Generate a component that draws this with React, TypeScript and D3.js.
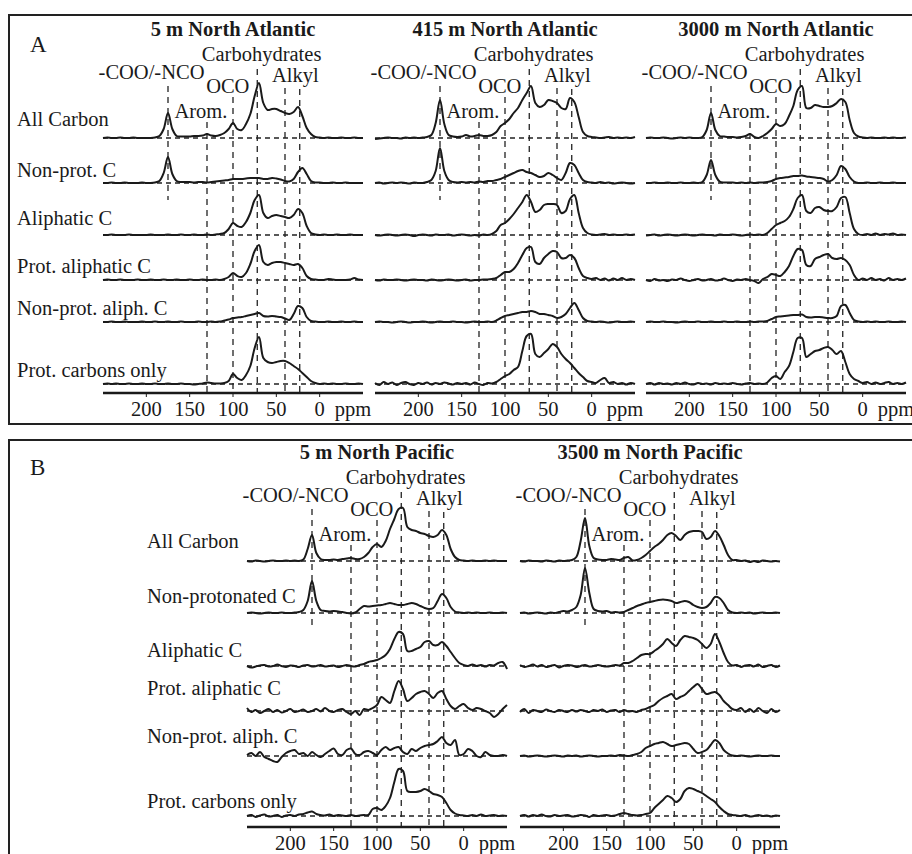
import React from 'react';
import * as d3 from 'd3';

// chemical shift grid (ppm), shared by all spectra
const PPM = [
  250, 245, 240, 235, 230, 225, 220, 215, 210, 205,
  200, 195, 190, 185, 180, 175, 170, 165, 160, 155,
  150, 145, 140, 135, 130, 125, 120, 115, 110, 105,
  100, 95, 90, 85, 80, 75, 70, 65, 60, 55,
  50, 45, 40, 35, 30, 25, 20, 15, 10, 5,
  0, -5, -10, -15, -20, -25, -30, -35, -40, -45, -50,
];

// ---------- Panel A: North Atlantic ----------
const NA5_ALL = [0,0.5,0,0,0.5,0,0,0.5,0,0, 0,0,0.5,2,9,25,9,2,1.5,1.5, 1.5,2,2,2.5,4,2.5,2,3,5,9, 15,9,8,14,24,42,55,35,28,29, 29,27,25,24,26,31,22,10,4,1, 0.5,0,0.5,0,0,0.5,0,0,0.5,0,0];
const NA5_NONPROT = [0,0,0.5,0,0,0.5,0,0,0,0.5, 0,0,0.5,2,10,26,9,2,1,1, 1,0.5,1,1,0.5,1,1.5,2,2.5,3, 4,4,4,4.5,5,5,5,4,4,5, 4.5,3.5,2,1.5,4,11,15,9,2,0.5, 0.5,0,0,0.5,0,0,0.5,0,0,0,0];
const NA5_ALIPH = [0,0,0.5,0,0,0,0.5,0,0,0, 0,0.5,0,0,0,0.5,0,0,0.5,0, 0,0.5,0,0,0.5,0,0.5,1,2,6, 12,9,8,13,22,35,40,22,17,19, 20,19,18,17,20,26,22,9,2,0.5, 0,0.5,0,0,0.5,0,0,0.5,0,0,0];
const NA5_PROTALIPH = [0,0.5,0,0,0.5,0,0,0,0.5,0, 0,0.5,0,0,0.5,0,0,0.5,0,0, 0.5,0,0,0.5,0,0,0.5,0,1,3, 7,4,3,7,16,29,35,18,15,17, 18,18,17,16,15,16,12,4,1,0.5, 0,0,1,0.5,0,0,0,0.5,2,0.5,0];
const NA5_NONPROTALIPH = [0,0,0.5,0,0,0.5,0,0,0,0.5, 0,0,0.5,0,0,0.5,0,0,0.5,0, 0,0,0.5,0,0,0.5,0,0.5,1.5,2.5, 4,4.5,5,6,7,8,9,6,5.5,6, 5.5,5,3.5,2,8,16,14,5,1,0.5, 0,0,0.5,0,0,0.5,0,0,0.5,0,0];
const NA5_PROT = [0,0.5,0,0.5,0,0,0.5,0,0,0.5, 0,0,0.5,0,0,0.5,0,0,0.5,0, 0,-0.5,0,0.5,1.5,1,0.5,0.5,1,3, 10,6,4,9,18,36,47,26,22,21, 22,23,23,21,18,15,11,7,3,1, 0,0.5,0,0.5,0,0,0.5,0,0,0.5,0];

const NA415_ALL = [-1,-0.5,0,0.5,0,0,-0.5,0.5,0,0.5, 0,0.5,1,3,15,38,14,3,1.5,1, 1.5,3,1.5,2,3,2,2,3,6,12, 15,19,25,30,38,45,52,35,31,33, 38,37,35,30,29,40,36,21,6,2, 1,0.5,0,0.5,1,0,0.5,0,0.5,0,1];
const NA415_NONPROT = [0,0.5,-0.5,0,0.5,0,0.5,0,-0.5,0.5, 0,0,1,3,12,35,12,3,1,0.5, 1,0.5,1,0.5,1.5,1,2,2,3,4, 6,8,10,12,13,11,10,8,6,7, 10,8,5,3,10,20,18,10,3,1, 0.5,0,1,0,0.5,-0.5,0,0.5,0,-0.5,0];
const NA415_ALIPH = [0,-0.5,0,0.5,0,-0.5,0,0.5,0,-1, 0,0.5,0,-0.5,0.5,0,0,0.5,-0.5,0, 0.5,0,-0.5,0,-0.5,0.5,0,1,4,10, 12,16,21,27,33,40,33,23,25,30, 31,31,30,22,24,36,40,22,7,2, 0.5,0,0.5,1,0,0.5,0,0,0.5,0,0.5];
const NA415_PROTALIPH = [0,-0.5,0.5,0,0,0.5,0,-0.5,0,0.5, 0,0,-0.5,0.5,0,-0.5,0,0.5,0,-0.5, 0,0.5,-0.5,0,0,0.5,0.5,1,2,5, 8,8,11,17,25,32,33,18,16,22, 26,29,28,22,22,25,22,12,4,2, 1,2,0,1.5,-0.5,1.5,0,2,0,1,0];
const NA415_NONPROTALIPH = [0,0.5,0,0,-0.5,0,0.5,0,-0.5,0, 0,0.5,0,-0.5,0,0.5,0,0,0.5,0, 0,-0.5,0,0.5,0,0,0.5,0,1.5,4, 6,7,8,9,10,10,11,10,8,8, 7,6,4,5,8,14,19,12,4,1, 0.5,0,0.5,0,-0.5,0,0.5,0,0,0.5,0];
const NA415_PROT = [1,-1,2,0,1.5,-1,1,2,0,-1, 1,0,1.5,-0.5,1,0,1.5,0.5,-0.5,1, 0,1,-0.5,1.5,0,-1,1,0.5,2,5, 8,10,14,17,33,48,50,30,27,31, 35,40,37,30,25,21,16,11,7,3, 2,1,4,6,1,2,0,1,-0.5,1,0];

const NA3000_ALL = [0,0.5,0,0,0.5,0,-0.5,0,0.5,0, 0.5,0,0,1,8,25,8,2,1.5,1, 1,0.5,1,2,4,1,0,2,5,9, 14,12,14,22,32,48,52,30,30,33, 32,31,31,32,35,39,36,18,5,1.5, 0.5,0,0.5,0,0,0.5,0,0.5,0,0,0.5];
const NA3000_NONPROT = [0,0,0.5,0,0,0.5,0,0,0.5,0, 0,0.5,0,1,8,23,8,1.5,0.5,0.5, 0.5,0,0.5,0,0.5,0,0.5,0.5,1,2, 4,5,5.5,6,7,7,7.5,6.5,6,5.5, 5,4,1.5,3,8,17,14,6,1.5,0, 0,0.5,0,0,0.5,0,0,0.5,0,0,0];
const NA3000_ALIPH = [-0.5,0,0.5,-0.5,0,0.5,0,-0.5,0,0.5, 0,-0.5,0,0.5,0,0,-0.5,0.5,0,0, 0.5,0,-0.5,0,0.5,0,0.5,0,2,6, 10,12,14,18,26,37,40,24,22,27, 28,25,24,24,28,37,38,22,6,1, 0,1,0,1.5,0,1,0.5,1.5,0,0.5,0];
const NA3000_PROTALIPH = [0,-1,1,-0.5,0,-1,0.5,0,1.5,0, -1,0,1,-0.5,0,1,-0.5,0,1.5,0, -1,0.5,0,1,0,-1,-3,1,3,6, 5,4,8,14,24,31,30,15,14,21, 23,25,26,22,21,22,20,15,5,0, 1.5,0,2,0,1,-0.5,2,0,1,0,1.5];
const NA3000_NONPROTALIPH = [0,0.5,0,0,0.5,0,0,-0.5,0,0.5, 0,0,0.5,0,0,0.5,0,0,0.5,0, 0,0.5,0,0,0.5,0,0.5,0.5,1,3, 5,5.5,6,6.5,7,7,7.5,5,4.5,5, 5,4.5,4,4,6,16,17,9,2,0.5, 0,0.5,0,0.5,0,0,0.5,0,0,0.5,0];
const NA3000_PROT = [0,1,-0.5,1,0,0.5,-0.5,1,0,1.5, 0,-0.5,1,0,0.5,-0.5,1,0,0.5,0, 1,0,-0.5,0.5,1,0,0.5,0,1.5,6, 8,5,12,18,32,46,46,27,30,33, 34,36,37,34,30,33,22,10,5,3, 1,2,0,1.5,0,1,2,0,1,0,1.5];

// ---------- Panel B: North Pacific ----------
const NP5_ALL = [0,-0.5,0.5,0,-0.5,0,0.5,0,0,0.5, 0,0.5,0,1.5,12,26,8,2,1,1, 1.5,1,2,2.5,3,2,2,4,8,14, 17,14,20,32,42,52,53,34,31,30, 28,27,25,24,26,31,26,12,4,1, 0.5,0,0.5,0,0,0.5,0,0.5,0,0,0];
const NP5_NONPROT = [0,0.5,0,-0.5,0,0.5,0,0,0.5,0, 0,0.5,1,3,12,32,12,3,2,1.5, 2,1.5,1,0,-0.5,0.5,4,7,6.5,7, 7.5,8,9,10,9,8,8,9,10,9, 7,5,4,5,12,19,15,6,1.5,0.5, 0,0.5,0,0.5,0,0,0.5,0,0,0.5,0];
const NP5_ALIPH = [0,-1.5,-0.5,0.5,1,-0.5,0,1.5,0,-1, 0.5,0,-1,0.5,1,-0.5,0,1,-0.5,0, 0.5,-1,0,1,0,-0.5,1,2,4,5, 6,8,11,17,27,34,32,15,15,17, 19,24,25,21,21,24,20,14,8,3, 1,0,1.5,0,1,-0.5,1,0.5,3,4,-3];
const NP5_PROTALIPH = [3,-1,1,-2,0,2,-1,1,-1.5,0, 2,-1,0,1.5,-1,0,2,-0.5,3,0, -1,1,2,-1,-3,0,-4,2,1,3, 6,14,11,8,20,30,22,10,13,17, 19,20,17,13,18,20,12,5,2,5, 7,3,1,3,2,0,-2,-6,-3,2,6];
const NP5_NONPROTALIPH = [1,3,0,4,-1,-3,-5,-6,-1,3, 5,6,2,3,0,4,1,-1,2,5, 7.5,2,1,6,7.5,2,1,4,5,3, 1,6,9,6,8,9,4,2,7,5, 8,10,11,12,15,19,13,11,16,1, 2,7,5,0,-1,4,1,0,0,1,0];
const NP5_PROT = [0,1,-1,0.5,1.5,-0.5,0,1,-1,0.5, 1,0,1.5,2,3.5,4.5,2,1,0.5,1.5, 0,1,0.5,0,1,0,0.5,1,1,7, 8,6,10,18,34,47,45,25,24,24, 25,27,25,22,21,19,13,6,2.5,1, 0.5,0,1,0,1.5,0,0.5,1,0,0.5,0];

const NP3500_ALL = [0,-0.5,0.5,0,0,-0.5,0.5,0,-0.5,0.5, 0,0.5,1,4,20,43,15,3,1.5,1, 1,2,1.5,1,3,4,0.5,1,3,6, 10,14,17,21,26,28,25,21,26,29, 30,30,29,22,24,30,25,16,6,1, 1,0,0.5,-1,0,-1,0.5,0,-0.5,0,-0.5];
const NP3500_NONPROT = [0,0.5,-0.5,0,0.5,0,-0.5,0.5,0,1, 2,1.5,3,6,18,45,20,4,2,1.5, 2,0.5,1,0.5,1,3,5,7,8.5,10, 11,12,13,13.5,13,12,10,11,12,11, 8,6,5,6,10,16,15,10,3,0.5, 0,0.5,0,0.5,-0.5,0,0.5,0,0,0.5,0];
const NP3500_ALIPH = [1,-1,0,1.5,-0.5,1,-1,0,1,-1.5, 0,1,0.5,-1,0,1,-0.5,0,1,0, -0.5,0,1,0.5,3,3,5,8,11,12, 12,15,18,22,27,23,20,26,30,29, 28,26,22,18,22,32,24,13,4,0.5, 1,-1,0.5,1,-0.5,1.5,-1,0,1,-1,0.5];
const NP3500_PROTALIPH = [-1,2,-2,1,0,-1,1.5,0,-1,1, 0,-1,1,-0.5,1,0,-1,1,0,1.5, -1,0.5,1,-1,1,-0.5,0,-1,1,2, 4,6,10,13,15,17,12,14,16,20, 24,27,22,17,18,19,16,10,6,2, 1,3,-1,2,-1,3,0,-2,2,-1,1];
const NP3500_NONPROTALIPH = [0,0.5,-0.5,0,0.5,0,-0.5,0,0.5,0, -0.5,0.5,0,0.5,-0.5,0,0.5,0,-0.5,0, 0,0.5,0,1,0.5,0,1,2,4,8, 10,12,13,14,12,10,11,12,13,12, 7,3,4,6,11,16,13,6,2.5,0.5, 0,0.5,0,-0.5,0,0.5,0,0,0.5,0,0];
const NP3500_PROT = [0,1,-0.5,1,0,1.5,0,-0.5,1,0, 0.5,1,-0.5,0,1,0.5,-1,1,0,0.5, 1,0,0.5,2,3,2,1,0.5,1,2, 3,8,12,16,20,18,14,17,25,28, 27,25,23,20,17,14,9,5,2,1, 0.5,0,1,-0.5,0,1,0,0.5,-0.5,0.5,0];

// ---------- labels ----------
const ROW_LABELS_A = ['All Carbon', 'Non-prot. C', 'Aliphatic C', 'Prot. aliphatic C', 'Non-prot. aliph. C', 'Prot. carbons only'];
const ROW_LABELS_B = ['All Carbon', 'Non-protonated C', 'Aliphatic C', 'Prot. aliphatic C', 'Non-prot. aliph. C', 'Prot. carbons only'];
const TITLES_A = ['5 m North Atlantic', '415 m North Atlantic', '3000 m North Atlantic'];
const TITLES_B = ['5 m North Pacific', '3500 m North Pacific'];
const REGION_PPM = [175, 130, 100, 72, 40, 23];
const ANNOT_LABELS = ['Carbohydrates', '-COO/-NCO', 'Alkyl', 'OCO', 'Arom.'];
const ANNOT_PPM = [67, 194, 28, 106, 137];
const TICKS = [200, 150, 100, 50, 0];

const SPECTRA_A = [
  [NA5_ALL, NA5_NONPROT, NA5_ALIPH, NA5_PROTALIPH, NA5_NONPROTALIPH, NA5_PROT],
  [NA415_ALL, NA415_NONPROT, NA415_ALIPH, NA415_PROTALIPH, NA415_NONPROTALIPH, NA415_PROT],
  [NA3000_ALL, NA3000_NONPROT, NA3000_ALIPH, NA3000_PROTALIPH, NA3000_NONPROTALIPH, NA3000_PROT],
];
const SPECTRA_B = [
  [NP5_ALL, NP5_NONPROT, NP5_ALIPH, NP5_PROTALIPH, NP5_NONPROTALIPH, NP5_PROT],
  [NP3500_ALL, NP3500_NONPROT, NP3500_ALIPH, NP3500_PROTALIPH, NP3500_NONPROTALIPH, NP3500_PROT],
];

// ---------- layout ----------
const FONT = "'Liberation Serif', 'Times New Roman', serif";
const FS = 20.5;
const COL_W = 260;
const LINE_TOP = [-52, -16, -41, -69, -50, -49];
const ANNOT_DY = [-77, -59, -56, -45, -20];

const PANELS = [
  {
    letter: 'A', letterY: 52, boxY: 15, boxH: 409,
    rows: [138, 183, 235, 280, 322, 384], axisY: 393,
    labelX: 17, labelY: [126, 177, 225, 273, 315, 377],
    rowLabels: ROW_LABELS_A, titles: TITLES_A, spectra: SPECTRA_A,
    lefts: [103, 375, 646],
  },
  {
    letter: 'B', letterY: 475, boxY: 440, boxH: 440,
    rows: [561, 613, 666, 711, 756, 816], axisY: 827,
    labelX: 147, labelY: [548, 603, 657, 695, 743, 808],
    rowLabels: ROW_LABELS_B, titles: TITLES_B, spectra: SPECTRA_B,
    lefts: [247, 520],
  },
];

function Column({ left, title, spectra, rows, axisY }: any) {
  const x = d3.scaleLinear().domain([250, -50]).range([left, left + COL_W]);
  const top = rows[0];
  const curves = spectra.map((vals: number[], r: number) => {
    const y = d3.scaleLinear().domain([0, 60]).range([rows[r], rows[r] - 60]);
    const line = d3
      .line<number>()
      .x((_, i) => x(PPM[i]))
      .y((v) => y(v))
      .curve(d3.curveCatmullRom.alpha(0.5));
    return line(vals) as string;
  });
  return (
    <g>
      <text x={(left + left + COL_W) / 2} y={top - 102} textAnchor="middle" fontWeight="bold" fontSize={FS} fontFamily={FONT} fill="#1a1a1a">
        {title}
      </text>
      {ANNOT_LABELS.map((t, i) => (
        <text key={t} x={x(ANNOT_PPM[i])} y={top + ANNOT_DY[i]} textAnchor="middle" fontSize={FS} fontFamily={FONT} fill="#1a1a1a">
          {t}
        </text>
      ))}
      {rows.map((b: number, r: number) => (
        <line key={'h' + r} x1={left} x2={left + COL_W} y1={b} y2={b} stroke="#222" strokeWidth={1.3} strokeDasharray="5,4" />
      ))}
      {REGION_PPM.map((p, i) => (
        <line key={'v' + i} x1={x(p)} x2={x(p)} y1={top + LINE_TOP[i]} y2={i === 0 ? rows[1] + 17 : axisY}
          stroke="#222" strokeWidth={1.3} strokeDasharray="6,5" />
      ))}
      {curves.map((d: string, r: number) => (
        <path key={'c' + r} d={d} fill="none" stroke="#1a1a1a" strokeWidth={2} strokeLinejoin="round" />
      ))}
      <line x1={left} x2={left + COL_W} y1={axisY} y2={axisY} stroke="#1a1a1a" strokeWidth={2.5} />
      {TICKS.map((t) => (
        <g key={'t' + t}>
          <line x1={x(t)} x2={x(t)} y1={axisY} y2={axisY + 4} stroke="#1a1a1a" strokeWidth={1} />
          <text x={x(t)} y={axisY + 22.5} textAnchor="middle" fontSize={FS} fontFamily={FONT} fill="#1a1a1a">{t}</text>
        </g>
      ))}
      <text x={x(0) + 15} y={axisY + 22.5} fontSize={FS} fontFamily={FONT} fill="#1a1a1a">ppm</text>
    </g>
  );
}

export default function App() {
  return (
    <svg width={912} height={854} viewBox="0 0 912 854" style={{ position: 'absolute', left: 0, top: 0, background: '#fff' }}>
      <rect x={0} y={0} width={912} height={854} fill="#fff" />
      {PANELS.map((p) => (
        <g key={p.letter}>
          <rect x={9} y={p.boxY} width={912} height={p.boxH} fill="none" stroke="#222" strokeWidth={2} />
          <text x={30} y={p.letterY} fontSize={23} fontFamily={FONT} fill="#1a1a1a">{p.letter}</text>
          {p.rowLabels.map((t, r) => (
            <text key={t + r} x={p.labelX} y={p.labelY[r]} fontSize={FS} fontFamily={FONT} fill="#1a1a1a">{t}</text>
          ))}
          {p.lefts.map((left, c) => (
            <Column key={c} left={left} title={p.titles[c]} spectra={p.spectra[c]} rows={p.rows} axisY={p.axisY} />
          ))}
        </g>
      ))}
    </svg>
  );
}
